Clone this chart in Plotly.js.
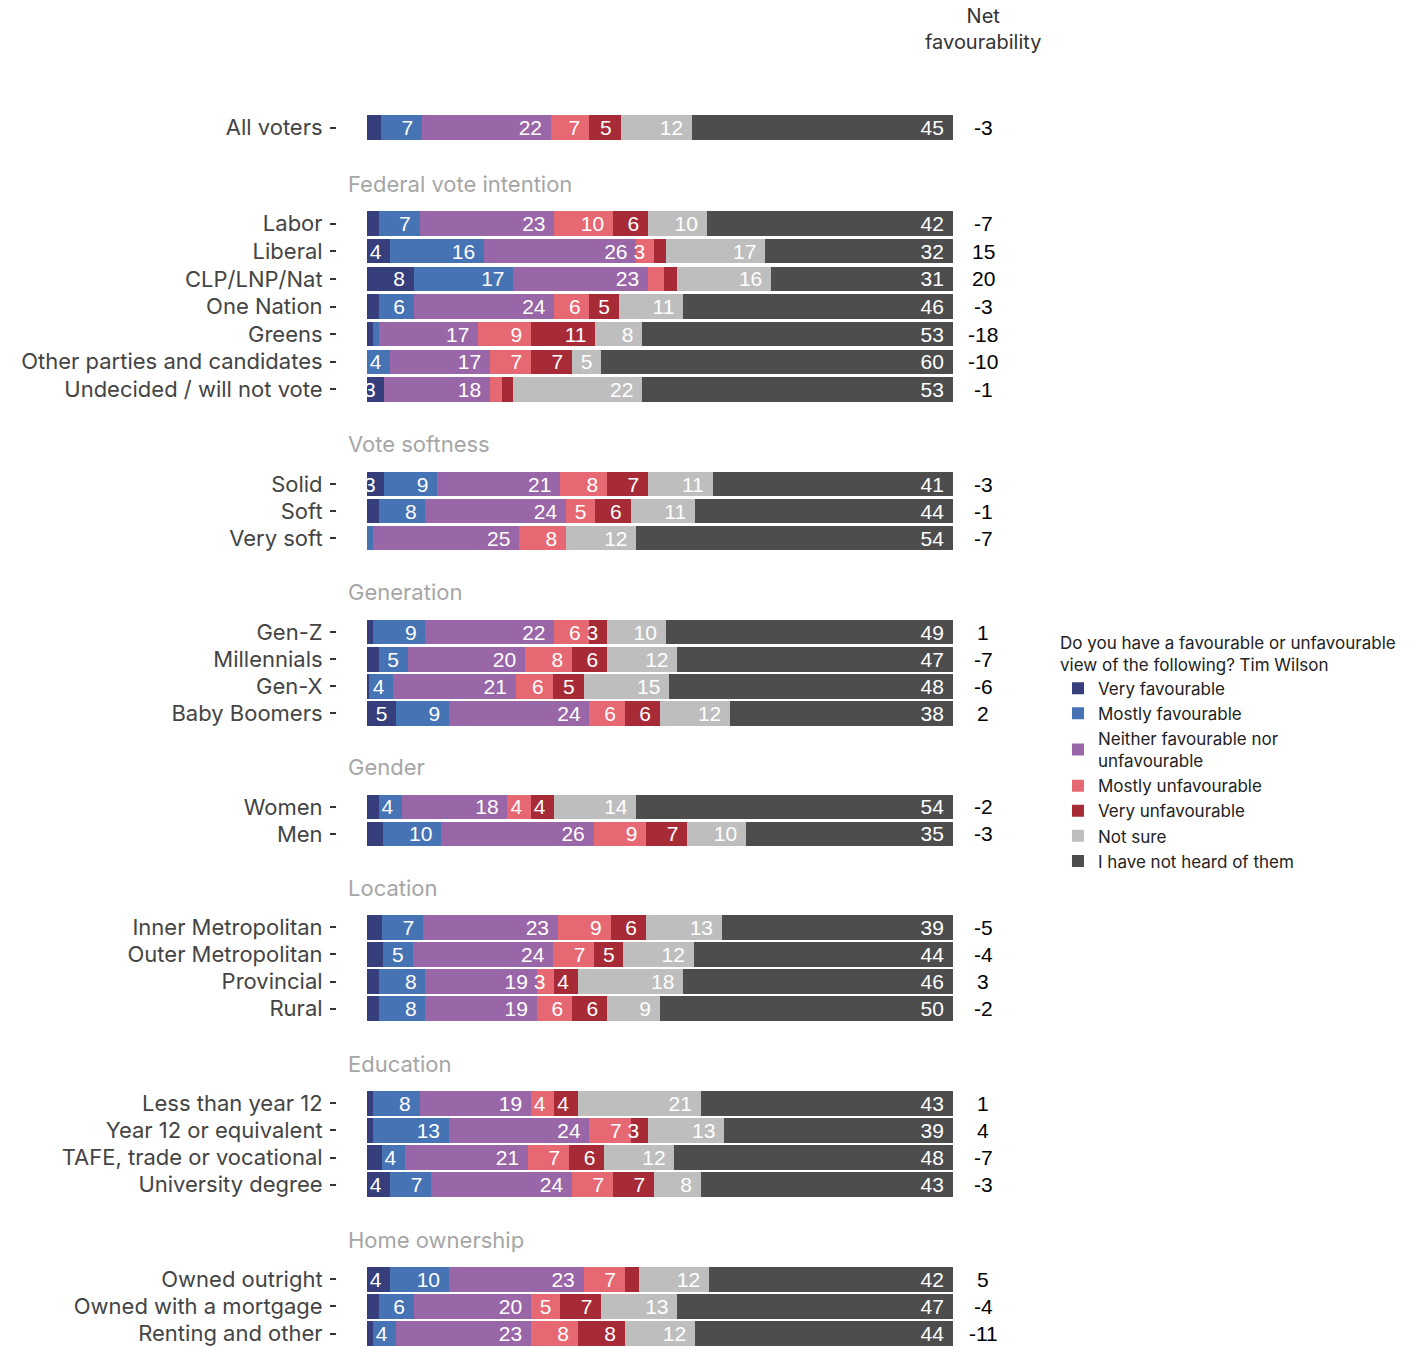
<!DOCTYPE html>
<html>
<head>
<meta charset="utf-8">
<script src="https://cdn.plot.ly/plotly-3.0.1.min.js"></script>
<style>html,body{margin:0;padding:0;background:#fff;}#chart{width:1414px;height:1347px;}</style>
</head>
<body>
<div id="chart"></div>
<script>
// ---- data ----
const groupHeaders = [null, "Federal vote intention", "Vote softness", "Generation", "Gender", "Location", "Education", "Home ownership"];
const groupRows = [
  ["All voters"],
  ["Labor", "Liberal", "CLP/LNP/Nat", "One Nation", "Greens", "Other parties and candidates", "Undecided / will not vote"],
  ["Solid", "Soft", "Very soft"],
  ["Gen-Z", "Millennials", "Gen-X", "Baby Boomers"],
  ["Women", "Men"],
  ["Inner Metropolitan", "Outer Metropolitan", "Provincial", "Rural"],
  ["Less than year 12", "Year 12 or equivalent", "TAFE, trade or vocational", "University degree"],
  ["Owned outright", "Owned with a mortgage", "Renting and other"]
];
const seriesNames = ["Very favourable", "Mostly favourable", "Neither favourable nor<br>unfavourable", "Mostly unfavourable", "Very unfavourable", "Not sure", "I have not heard of them"];
const veryFav     = [2.4, 2,4,8,2,1,0,3, 3,2,0, 1,2,0.4,5, 2,2.7, 2.6,2.8,2,2, 1,1,2.5,4, 4,2,1];
const mostlyFav   = [7, 7,16,17,6,1,4,0, 9,8,1, 9,5,4.1,9, 4,10, 7,5,8,8, 8,13,4,7, 10,6,4];
const neither     = [22, 23,26,23,24,17,17,18, 21,24,25, 22,20,20.9,24, 18,26, 23,24,19,19, 19,24,21,24, 23,20,23];
const mostlyUnfav = [6.5, 10,3,2.8,6,9,7,2, 8,5,8, 6,8,6.3,6, 4,9, 9,7,3,6, 4,7,7,7, 7,5,8];
const veryUnfav   = [5.4, 6,2,2.2,5,11,7,2, 7,6,0, 3,6,5.3,6, 4,7, 6,5,4,6, 4,3,6,7, 2.4,7,8];
const notSure     = [12.2, 10,17,16,11,8,5,22, 11,11,12, 10,12,14.6,12, 14,10, 13,12,18,9, 21,13,12,8, 12,13,12];
const notHeard    = [44.5, 42,32,31,46,53,60,53, 41,44,54, 49,47,48.4,38, 54,35.3, 39.4,44.2,46,50, 43,39,47.5,43, 41.6,47,44];
const netFav      = [-3, -7,15,20,-3,-18,-10,-1, -3,-1,-7, 1,-7,-6,2, -2,-3, -5,-4,3,-2, 1,4,-7,-3, 5,-4,-11];
const colors = ["#363f7c", "#4573b4", "#9966a7", "#e56873", "#a62b37", "#bebebe", "#4d4d4d"];
const legendTitle = "Do you have a favourable or unfavourable<br>view of the following? Tim Wilson";
const netTitle = "Net<br>favourability";

// ---- slot layout (gap before each group, row step inside each group) ----
const groupGap  = [0, 3.55, 3.5, 3.47, 3.45, 3.45, 3.5, 3.5];
const groupStep = [1, 1.02, 1, 1, 1, 1, 1, 1];

const labels = [], ypos = [], headerPos = [];
let p = 0;
groupRows.forEach((rows, gi) => {
  rows.forEach((r, ri) => {
    if (gi > 0 || ri > 0) p += (ri === 0) ? groupGap[gi] : groupStep[gi];
    labels.push(r); ypos.push(p);
    if (ri === 0 && groupHeaders[gi]) headerPos.push([groupHeaders[gi], p - 1.47]);
  });
});

const labelFont = "Inter, sans-serif";
const numFont = "Liberation Sans, Arial, sans-serif";

const series = [veryFav, mostlyFav, neither, mostlyUnfav, veryUnfav, notSure, notHeard];
const traces = series.map((vals, i) => ({
  type: "bar",
  orientation: "h",
  name: seriesNames[i],
  x: vals,
  y: ypos,
  width: 0.9,
  marker: {color: colors[i], line: {width: 0}},
  text: vals.map(v => v >= 2.95 ? Math.round(v) + "\u00a0" : ""),
  textposition: "inside",
  insidetextanchor: "end",
  textangle: 0,
  constraintext: "none",
  insidetextfont: {family: numFont, size: 21, color: "#ffffff"},
  hoverinfo: "skip"
}));

const annotations = [];
headerPos.forEach(([t, y]) => annotations.push({
  text: t, x: -3.5, y: y, xref: "x", yref: "y", xanchor: "left", yanchor: "middle",
  showarrow: false, font: {family: labelFont, size: 22, color: "#a6a6a6"}
}));
netFav.forEach((v, i) => annotations.push({
  text: String(v), x: 105.2, y: ypos[i], xref: "x", yref: "y", xanchor: "center", yanchor: "middle",
  showarrow: false, font: {family: numFont, size: 21, color: "#000000"}
}));
annotations.push({
  text: netTitle, x: 105.2, y: 1.0686, xref: "x", yref: "paper", xanchor: "center", yanchor: "middle",
  showarrow: false, font: {family: labelFont, size: 20, color: "#333333"}
});

const layout = {
  width: 1414, height: 1347,
  margin: {l: 337, r: 391, t: 114, b: 1, pad: 0, autoexpand: false},
  paper_bgcolor: "#ffffff", plot_bgcolor: "#ffffff",
  barmode: "stack",
  bargap: 0,
  showlegend: true,
  font: {family: labelFont, color: "#333333"},
  xaxis: {range: [-5.1, 112], showgrid: false, zeroline: false, showticklabels: false, ticks: "", showline: false, fixedrange: true},
  yaxis: {
    range: [45, -0.5], tickvals: ypos, ticktext: labels, showgrid: false, zeroline: false, showline: false,
    ticks: "outside", ticklen: 6, tickwidth: 2, tickcolor: "#333333", ticklabelstandoff: 3,
    ticklabeloverflow: "allow", automargin: false,
    tickfont: {family: labelFont, size: 22, color: "#444444"}, fixedrange: true
  },
  legend: {
    x: 1.051, xanchor: "left", y: 0.584, yanchor: "top",
    traceorder: "normal", tracegroupgap: 0,
    title: {text: legendTitle, side: "top", font: {family: labelFont, size: 17, color: "#222222"}},
    font: {family: labelFont, size: 17, color: "#222222"},
    bgcolor: "rgba(0,0,0,0)", borderwidth: 0, itemwidth: 30
  },
  annotations: annotations
};

Plotly.newPlot("chart", traces, layout, {displayModeBar: false, staticPlot: true});
</script>
</body>
</html>
